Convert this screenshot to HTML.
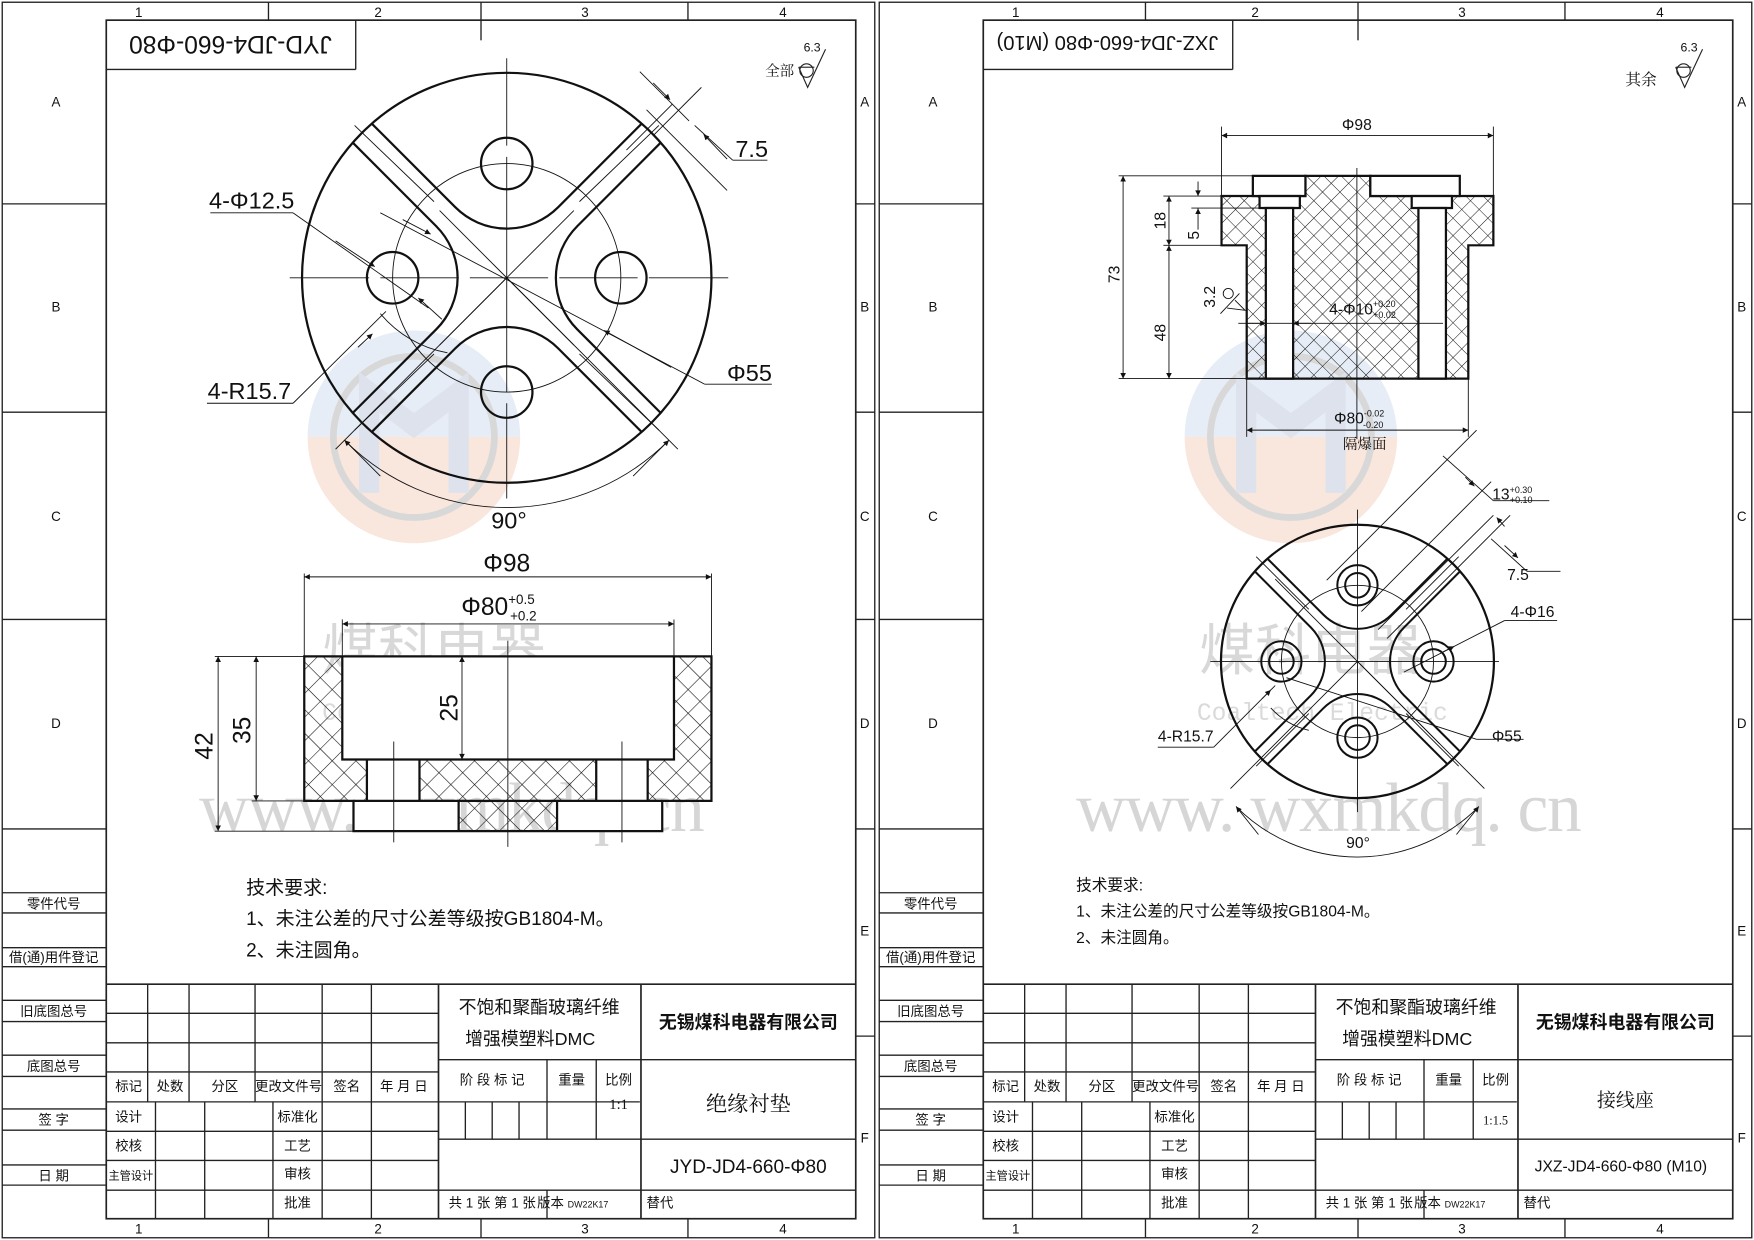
<!DOCTYPE html>
<html><head><meta charset="utf-8"><style>
html,body{margin:0;padding:0;background:#fff;}
svg{display:block;}
text{font-family:"Liberation Sans","Noto Sans CJK SC",sans-serif;fill:#111;}
.cn{font-family:"Liberation Serif","Noto Serif CJK SC","Noto Sans CJK SC",serif;}
</style></head><body>
<svg width="1754" height="1240" viewBox="0 0 1568 1107" preserveAspectRatio="none" xmlns="http://www.w3.org/2000/svg">
<defs>
<pattern id="h" width="15" height="15" patternUnits="userSpaceOnUse" patternTransform="rotate(45)">
<line x1="0" y1="0" x2="0" y2="15" stroke="#111" stroke-width="1"/><line x1="0" y1="0" x2="15" y2="0" stroke="#111" stroke-width="1"/></pattern>
<pattern id="h2" width="11" height="11" patternUnits="userSpaceOnUse" patternTransform="rotate(45)">
<line x1="0" y1="0" x2="0" y2="11" stroke="#111" stroke-width="0.9"/><line x1="0" y1="0" x2="11" y2="0" stroke="#111" stroke-width="0.9"/></pattern>
<marker id="a" viewBox="0 0 10 10" refX="10" refY="5" markerWidth="9" markerHeight="5" orient="auto-start-reverse" markerUnits="userSpaceOnUse"><path d="M0,0 L10,5 L0,10z" fill="#111"/></marker>
<g id="frame" fill="none" stroke="#222" stroke-width="1.2">
<rect x="2" y="2" width="780" height="1103"/>
<rect x="95" y="18" width="670" height="1070" stroke-width="1.5"/>
<line x1="240" y1="2" x2="240" y2="18"/><line x1="430" y1="2" x2="430" y2="36"/><line x1="615" y1="2" x2="615" y2="18"/>
<line x1="240" y1="1088" x2="240" y2="1105"/><line x1="430" y1="1088" x2="430" y2="1105"/><line x1="615" y1="1088" x2="615" y2="1105"/>
<line x1="2" y1="182" x2="95" y2="182"/><line x1="2" y1="368" x2="95" y2="368"/><line x1="2" y1="553" x2="95" y2="553"/><line x1="2" y1="740" x2="95" y2="740"/>
<line x1="765" y1="182" x2="782" y2="182"/><line x1="765" y1="368" x2="782" y2="368"/><line x1="765" y1="553" x2="782" y2="553"/><line x1="765" y1="740" x2="782" y2="740"/><line x1="765" y1="925" x2="782" y2="925"/>
<line x1="2" y1="797" x2="95" y2="797"/><line x1="2" y1="815" x2="95" y2="815"/>
<line x1="2" y1="846" x2="95" y2="846"/><line x1="2" y1="863" x2="95" y2="863"/>
<line x1="2" y1="893" x2="95" y2="893"/><line x1="2" y1="912" x2="95" y2="912"/>
<line x1="2" y1="942" x2="95" y2="942"/><line x1="2" y1="961" x2="95" y2="961"/>
<line x1="2" y1="990" x2="95" y2="990"/><line x1="2" y1="1009" x2="95" y2="1009"/>
<line x1="2" y1="1040" x2="95" y2="1040"/><line x1="2" y1="1058" x2="95" y2="1058"/>
<!-- title block -->
<line x1="95" y1="878.6" x2="765" y2="878.6" stroke-width="1.5"/>
<line x1="95" y1="904.6" x2="392" y2="904.6"/><line x1="95" y1="931" x2="392" y2="931"/><line x1="95" y1="957" x2="392" y2="957"/>
<line x1="95" y1="983.7" x2="572" y2="983.7"/><line x1="95" y1="1010" x2="392" y2="1010"/><line x1="95" y1="1036" x2="392" y2="1036"/><line x1="95" y1="1062.5" x2="765" y2="1062.5"/>
<line x1="392" y1="946" x2="765" y2="946"/><line x1="392" y1="1017" x2="765" y2="1017"/>
<line x1="132" y1="878.6" x2="132" y2="983.7"/><line x1="169" y1="878.6" x2="169" y2="983.7"/><line x1="228" y1="878.6" x2="228" y2="983.7"/><line x1="288" y1="878.6" x2="288" y2="1088"/><line x1="332" y1="878.6" x2="332" y2="1088"/>
<line x1="139" y1="983.7" x2="139" y2="1088"/><line x1="183" y1="983.7" x2="183" y2="1088"/><line x1="244" y1="983.7" x2="244" y2="1088"/>
<line x1="392" y1="878.6" x2="392" y2="1088" stroke-width="1.5"/><line x1="573" y1="878.6" x2="573" y2="1088" stroke-width="1.5"/>
<line x1="489" y1="946" x2="489" y2="1017"/><line x1="533" y1="946" x2="533" y2="1017"/>
<line x1="416" y1="983.7" x2="416" y2="1017"/><line x1="440" y1="983.7" x2="440" y2="1017"/><line x1="464" y1="983.7" x2="464" y2="1017"/>
<line x1="489" y1="1062.5" x2="489" y2="1088"/>
<line x1="95" y1="62" x2="318" y2="62"/><line x1="318" y1="18" x2="318" y2="62"/>
<!-- roughness symbol -->
<path d="M714,60 L722,78 L738,44" stroke-width="1"/><circle cx="721" cy="63" r="6" stroke-width="1"/><line x1="714" y1="60" x2="728" y2="60" stroke-width="1"/>
</g>
<g id="frametext" font-size="12" text-anchor="middle">
<text x="124" y="15">1</text><text x="338" y="15">2</text><text x="523" y="15">3</text><text x="700" y="15">4</text>
<text x="124" y="1101">1</text><text x="338" y="1101">2</text><text x="523" y="1101">3</text><text x="700" y="1101">4</text>
<text x="50" y="95">A</text><text x="50" y="278">B</text><text x="50" y="465">C</text><text x="50" y="650">D</text>
<text x="773" y="95">A</text><text x="773" y="278">B</text><text x="773" y="465">C</text><text x="773" y="650">D</text><text x="773" y="835">E</text><text x="773" y="1020">F</text>
<g class="cn">
<text x="48" y="811">零件代号</text><text x="48" y="859">借(通)用件登记</text><text x="48" y="907">旧底图总号</text><text x="48" y="956">底图总号</text><text x="48" y="1004">签 字</text><text x="48" y="1054">日 期</text>
<text x="115" y="974">标记</text><text x="152" y="974">处数</text><text x="201" y="974">分区</text><text x="258" y="974">更改文件号</text><text x="310" y="974">签名</text><text x="361" y="974">年 月 日</text>
<text x="115" y="1001">设计</text><text x="115" y="1027">校核</text><text x="117" y="1053" font-size="10">主管设计</text>
<text x="266" y="1001">标准化</text><text x="266" y="1027">工艺</text><text x="266" y="1052">审核</text><text x="266" y="1078">批准</text>
<text x="440" y="968">阶 段 标 记</text><text x="511" y="968">重量</text><text x="553" y="968">比例</text>
<text x="440" y="1078">共 1 张  第 1 张</text><text x="512" y="1078">版本 <tspan font-size="8">DW22K17</tspan></text><text x="590" y="1078">替代</text>
<text x="482" y="905" font-size="16">不饱和聚酯玻璃纤维</text><text x="474" y="933" font-size="16">增强模塑料DMC</text>
<text x="669" y="918" font-size="16" font-weight="bold" style="font-family:'Noto Sans CJK SC',sans-serif">无锡煤科电器有限公司</text>
</g>
</g>
<g id="logo" opacity="0.45">
<path d="M275,390 A95,95 0 0 1 465,390 Z" fill="#c9d9ec"/><path d="M275,390 A95,95 0 0 0 465,390 Z" fill="#f2c9b4"/>
<circle cx="370" cy="390" r="72" fill="none" stroke="#aaa" stroke-width="6"/>
<path d="M330,440 L330,350 L370,380 L410,350 L410,440" fill="none" stroke="#b8bfd6" stroke-width="18"/>
</g>
</defs>

<!-- LEFT SHEET -->
<use href="#logo"/>
<use href="#frame"/>
<use href="#frametext"/>
<text x="206" y="48" font-size="22" text-anchor="middle" transform="rotate(180 206 40)">JYD-JD4-660-Φ80</text>
<text x="697" y="68" font-size="13" class="cn" text-anchor="middle">全部</text><text x="726" y="46" font-size="11" text-anchor="middle">6.3</text>
<text x="553" y="990" font-size="13" text-anchor="middle" class="cn">1:1</text>
<text x="669" y="992" font-size="19" text-anchor="middle" class="cn">绝缘衬垫</text>
<text x="669" y="1047" font-size="17" text-anchor="middle">JYD-JD4-660-Φ80</text>
<g class="cn" font-size="17"><text x="220" y="798">技术要求:</text><text x="220" y="826">1、未注公差的尺寸公差等级按GB1804-M。</text><text x="220" y="854">2、未注圆角。</text></g>

<!-- watermark left -->
<g fill="#d4d4d4" style="fill:#d2d2d2">
<text x="288" y="598" font-size="50" style="fill:#d8d8d8;font-family:'Noto Sans CJK SC',sans-serif">煤科电器</text>
<text x="288" y="643" font-size="22" style="fill:#dadada;font-family:'Liberation Mono',monospace">Coaltech Electric</text>
<text x="178" y="742" font-size="62" textLength="452" style="fill:#d6d6d6;font-family:'Liberation Serif',serif">www. wxmkdq. cn</text>
</g>

<!-- left top view -->
<g fill="none" stroke="#111">
<circle cx="453" cy="248" r="183" stroke-width="2"/>
<g stroke-width="0.8">
<circle cx="453" cy="248" r="102"/>
<line x1="259" y1="248" x2="330" y2="248"/><line x1="340" y1="248" x2="410" y2="248"/><line x1="420" y1="248" x2="490" y2="248"/><line x1="500" y1="248" x2="570" y2="248"/><line x1="580" y1="248" x2="651" y2="248"/>
<line x1="453" y1="52" x2="453" y2="130"/><line x1="453" y1="140" x2="453" y2="350"/><line x1="453" y1="360" x2="453" y2="445"/>
<line x1="393" y1="188" x2="513" y2="308"/><line x1="513" y1="188" x2="393" y2="308"/>
<!-- arm thin lines -->
<line x1="317" y1="112" x2="388" y2="180"/><line x1="589" y1="112" x2="518" y2="180"/><line x1="317" y1="384" x2="388" y2="316"/><line x1="589" y1="384" x2="518" y2="316"/>
<!-- 7.5 dim -->
<line x1="578" y1="98" x2="650" y2="170"/><line x1="572" y1="64" x2="616" y2="108" /><line x1="601" y1="93" x2="560" y2="134"/><line x1="627" y1="78" x2="585" y2="120"/>
<line x1="621" y1="112" x2="655" y2="143"/><line x1="655" y1="143" x2="686" y2="143"/>
<!-- phi55 -->
<line x1="340" y1="190" x2="630" y2="343"/><line x1="630" y1="343" x2="690" y2="343"/>
<!-- 4-phi12.5 -->
<line x1="188" y1="190" x2="262" y2="190"/><line x1="262" y1="190" x2="383" y2="275"/>
<!-- 4-R15.7 -->
<line x1="185" y1="360" x2="262" y2="360"/><line x1="262" y1="360" x2="345" y2="278"/>
<path d="M340,280 A102,102 0 0 0 400,315"/>
<!-- 90 deg -->
<line x1="453" y1="248" x2="300" y2="401"/><line x1="453" y1="248" x2="606" y2="401"/>
<path d="M308,393 A205,205 0 0 0 598,393"/>
</g>
<g stroke-width="2">
<path id="lobe" d="M332.4,110.4 L407,185 A65,65 0 0 0 499,185 L573.6,110.4"/>
<use href="#lobe" transform="rotate(90 453 248)"/><use href="#lobe" transform="rotate(180 453 248)"/><use href="#lobe" transform="rotate(270 453 248)"/>
<circle cx="453" cy="146" r="23"/><circle cx="453" cy="350" r="23"/><circle cx="351" cy="248" r="23"/><circle cx="555" cy="248" r="23"/>
</g>
<g stroke-width="0.8" marker-end="url(#a)">
<line x1="584" y1="74" x2="599" y2="89"/><line x1="650" y1="142" x2="629" y2="120"/>
<line x1="360" y1="196" x2="385" y2="209"/><line x1="600" y1="328" x2="540" y2="295"/>
<line x1="300" y1="215" x2="335" y2="238"/><line x1="395" y1="285" x2="374" y2="266"/>
<line x1="320" y1="310" x2="333" y2="298"/>
<line x1="340" y1="425" x2="308" y2="393"/><line x1="566" y1="425" x2="598" y2="393"/>
</g>
</g>
<g font-size="21" text-anchor="middle">
<text x="672" y="140">7.5</text><text x="670" y="340">Φ55</text><text x="225" y="186">4-Φ12.5</text><text x="223" y="356">4-R15.7</text><text x="455" y="472">90°</text>
</g>

<!-- left section view -->
<g stroke="#111" fill="none">
<path d="M272,586 L636,586 L636,715 L592,715 L592,742 L316,742 L316,715 L272,715 Z" fill="url(#h)" stroke="none"/>
<rect x="306" y="586" width="296.5" height="92" fill="#fff" stroke="none"/>
<rect x="328" y="678" width="47" height="37" fill="#fff" stroke="none"/><rect x="533" y="678" width="46" height="37" fill="#fff" stroke="none"/>
<rect x="316" y="715" width="94" height="27" fill="#fff" stroke="none"/><rect x="498" y="715" width="94" height="27" fill="#fff" stroke="none"/>
<g stroke-width="2">
<path d="M272,586 L636,586 L636,715 L592,715 L592,742 L316,742 L316,715 L272,715 Z"/>
<path d="M306,586 L306,678 L602.5,678 L602.5,586"/>
<path d="M328,678 L328,715 M375,678 L375,715 M533,678 L533,715 M579,678 L579,715 M316,715 L592,715 M410,715 L410,742 M498,715 L498,742"/>
</g>
<g stroke-width="0.8">
<line x1="454" y1="572" x2="454" y2="756"/><line x1="352" y1="662" x2="352" y2="752"/><line x1="556" y1="662" x2="556" y2="752"/>
<line x1="272" y1="512" x2="272" y2="586"/><line x1="636" y1="512" x2="636" y2="586"/><line x1="306" y1="553" x2="306" y2="586"/><line x1="602.5" y1="553" x2="602.5" y2="586"/>
<line x1="192" y1="586" x2="272" y2="586"/><line x1="225" y1="715" x2="272" y2="715"/><line x1="192" y1="742" x2="316" y2="742"/>
</g>
<g stroke-width="0.8" marker-start="url(#a)" marker-end="url(#a)">
<line x1="272" y1="515" x2="636" y2="515"/><line x1="306" y1="557" x2="602.5" y2="557"/>
<line x1="413" y1="586" x2="413" y2="678"/><line x1="229" y1="586" x2="229" y2="715"/><line x1="195" y1="586" x2="195" y2="742"/>
</g>
</g>
<g font-size="22" text-anchor="middle">
<text x="453" y="510">Φ98</text>
<text x="446" y="549">Φ80<tspan font-size="12" dy="-10">+0.5</tspan><tspan font-size="12" dx="-22" dy="15">+0.2</tspan></text>
<text transform="translate(409,632) rotate(-90)">25</text>
<text transform="translate(224,652) rotate(-90)">35</text>
<text transform="translate(190,666) rotate(-90)">42</text>
</g>

<!-- RIGHT SHEET -->
<g transform="translate(784,0)">
<use href="#logo"/>
<use href="#frame"/>
<use href="#frametext"/>
</g>
<text x="990" y="48" font-size="18" text-anchor="middle" transform="rotate(180 990 40)">JXZ-JD4-660-Φ80 (M10)</text>
<text x="1467" y="76" font-size="14" class="cn" text-anchor="middle">其余</text><text x="1510" y="46" font-size="11" text-anchor="middle">6.3</text>
<text x="1337" y="1004" font-size="11" text-anchor="middle" class="cn">1:1.5</text>
<text x="1453" y="988" font-size="17" text-anchor="middle" class="cn">接线座</text>
<text x="1449" y="1046" font-size="14" text-anchor="middle">JXZ-JD4-660-Φ80 (M10)</text>
<g class="cn" font-size="14"><text x="962" y="795">技术要求:</text><text x="962" y="818">1、未注公差的尺寸公差等级按GB1804-M。</text><text x="962" y="842">2、未注圆角。</text></g>

<g>
<text x="1072" y="598" font-size="50" style="fill:#d8d8d8;font-family:'Noto Sans CJK SC',sans-serif">煤科电器</text>
<text x="1070" y="643" font-size="22" style="fill:#dadada;font-family:'Liberation Mono',monospace">Coaltech Electric</text>
<text x="962" y="742" font-size="62" textLength="452" style="fill:#d6d6d6;font-family:'Liberation Serif',serif">www. wxmkdq. cn</text>
</g>

<!-- right section -->
<g stroke="#111" fill="none">
<path d="M1092,175 L1167,175 L1167,157 L1225,157 L1225,175 L1335,175 L1335,219 L1312.6,219 L1312.6,338 L1114.5,338 L1114.5,219 L1092,219 Z" fill="url(#h2)" stroke-width="2"/>
<g fill="#fff" stroke-width="2">
<rect x="1120" y="157" width="47" height="18"/><rect x="1225" y="157" width="80" height="18"/>
<rect x="1126" y="175" width="36" height="10.7"/><rect x="1262" y="175" width="36" height="10.7"/>
<rect x="1131.6" y="185.7" width="24.4" height="152.3"/><rect x="1268" y="185.7" width="24.6" height="152.3"/>
</g>
<g stroke-width="0.8">
<line x1="1213" y1="150" x2="1213" y2="392"/>
<line x1="1092" y1="113" x2="1092" y2="175"/><line x1="1335" y1="113" x2="1335" y2="175"/>
<line x1="1000" y1="157" x2="1120" y2="157"/><line x1="1000" y1="338" x2="1114" y2="338"/><line x1="1040" y1="175" x2="1092" y2="175"/><line x1="1040" y1="219" x2="1114" y2="219"/>
<line x1="1065" y1="185.7" x2="1126" y2="185.7"/>
<line x1="1114.5" y1="338" x2="1114.5" y2="390"/><line x1="1312.6" y1="338" x2="1312.6" y2="390"/>
<line x1="1107" y1="288.6" x2="1290" y2="288.6"/>
<line x1="1091" y1="280" x2="1108" y2="262"/><path d="M1097,275 L1113,277 L1104,268"/><circle cx="1098" cy="262" r="4.5"/>
</g>
<g stroke-width="0.8" marker-start="url(#a)" marker-end="url(#a)">
<line x1="1092" y1="121" x2="1335" y2="121"/><line x1="1004" y1="157" x2="1004" y2="338"/><line x1="1045" y1="175" x2="1045" y2="219"/><line x1="1045" y1="219" x2="1045" y2="338"/>
<line x1="1114.5" y1="384" x2="1312.6" y2="384"/>
</g>
<g stroke-width="0.8" marker-end="url(#a)"><line x1="1071" y1="162" x2="1071" y2="175"/><line x1="1071" y1="205" x2="1071" y2="186"/><line x1="1115" y1="288.6" x2="1131.6" y2="288.6"/><line x1="1172" y1="288.6" x2="1156" y2="288.6"/></g>
</g>
<g font-size="14" text-anchor="middle">
<text x="1213" y="116">Φ98</text>
<text transform="translate(1001,245) rotate(-90)">73</text>
<text transform="translate(1042,197) rotate(-90)">18</text>
<text transform="translate(1042,297) rotate(-90)">48</text>
<text transform="translate(1072,210) rotate(-90)">5</text>
<text transform="translate(1086,265) rotate(-90)">3.2</text>
<text x="1218" y="281">4-Φ10<tspan font-size="8" dy="-7">+0.20</tspan><tspan font-size="8" dx="-20" dy="10">+0.02</tspan></text>
<text x="1215" y="378">Φ80<tspan font-size="8" dy="-6">-0.02</tspan><tspan font-size="8" dx="-19" dy="10">-0.20</tspan></text>
<text x="1220" y="401" class="cn" font-size="13">隔爆面</text>
</g>

<!-- right bottom view -->
<g fill="none" stroke="#111">
<circle cx="1213.5" cy="590.5" r="122" stroke-width="2"/>
<g stroke-width="0.8">
<circle cx="1213.5" cy="590.5" r="68"/>
<line x1="1082" y1="590.5" x2="1340" y2="590.5"/><line x1="1213.5" y1="455" x2="1213.5" y2="725"/>
<line x1="1140" y1="517" x2="1287" y2="664"/>
<line x1="1123" y1="497" x2="1170" y2="544"/><line x1="1304" y1="497" x2="1257" y2="544"/><line x1="1123" y1="684" x2="1170" y2="637"/><line x1="1304" y1="684" x2="1257" y2="637"/>
<line x1="1186" y1="518" x2="1320" y2="384"/><line x1="1217" y1="546" x2="1333" y2="430"/><line x1="1232" y1="562" x2="1335" y2="460"/><line x1="1240" y1="570" x2="1350" y2="460"/>
<line x1="1290" y1="407" x2="1335" y2="447"/><line x1="1335" y1="447" x2="1385" y2="447"/>
<line x1="1333" y1="481" x2="1365" y2="510"/><line x1="1365" y1="510" x2="1395" y2="510"/>
<line x1="1345" y1="554" x2="1392" y2="554"/><line x1="1345" y1="554" x2="1255" y2="600"/>
<line x1="1150" y1="605" x2="1320" y2="660"/><line x1="1320" y1="660" x2="1362" y2="660"/>
<line x1="1035" y1="667" x2="1085" y2="667"/><line x1="1085" y1="667" x2="1140" y2="612"/>
<path d="M1136,632 A68,68 0 0 0 1170,652"/>
<line x1="1213.5" y1="590.5" x2="1100" y2="704"/><line x1="1213.5" y1="590.5" x2="1327" y2="704"/>
<path d="M1105,720 A153,153 0 0 0 1322,720"/>
</g>
<g stroke-width="1.8">
<path id="lobe2" d="M1133.1,498.8 L1183.1,548.8 A43,43 0 0 0 1243.9,548.8 L1293.9,498.8"/>
<use href="#lobe2" transform="rotate(90 1213.5 590.5)"/><use href="#lobe2" transform="rotate(180 1213.5 590.5)"/><use href="#lobe2" transform="rotate(270 1213.5 590.5)"/>
<circle cx="1213.5" cy="522.5" r="18"/><circle cx="1213.5" cy="522.5" r="11"/>
<circle cx="1213.5" cy="658.5" r="18"/><circle cx="1213.5" cy="658.5" r="11"/>
<circle cx="1145.5" cy="590.5" r="18"/><circle cx="1145.5" cy="590.5" r="11"/>
<circle cx="1281.5" cy="590.5" r="18"/><circle cx="1281.5" cy="590.5" r="11"/>
</g>
<g stroke-width="0.8" marker-end="url(#a)">
<line x1="1310" y1="426" x2="1318" y2="434"/><line x1="1345" y1="470" x2="1338" y2="462"/>
<line x1="1345" y1="487" x2="1357" y2="498"/>
<line x1="1290" y1="582" x2="1300" y2="577"/>
<line x1="1128" y1="624" x2="1136" y2="616"/>
<line x1="1125" y1="745" x2="1105" y2="720"/><line x1="1302" y1="745" x2="1322" y2="720"/>
</g>
</g>
<g font-size="14" text-anchor="middle">
<text x="1352" y="446">13<tspan font-size="8" dy="-6">+0.30</tspan><tspan font-size="8" dx="-20" dy="9">+0.10</tspan></text>
<text x="1357" y="518">7.5</text><text x="1370" y="551">4-Φ16</text><text x="1347" y="662">Φ55</text><text x="1060" y="662">4-R15.7</text><text x="1214" y="757">90°</text>
</g>
</svg>
</body></html>
